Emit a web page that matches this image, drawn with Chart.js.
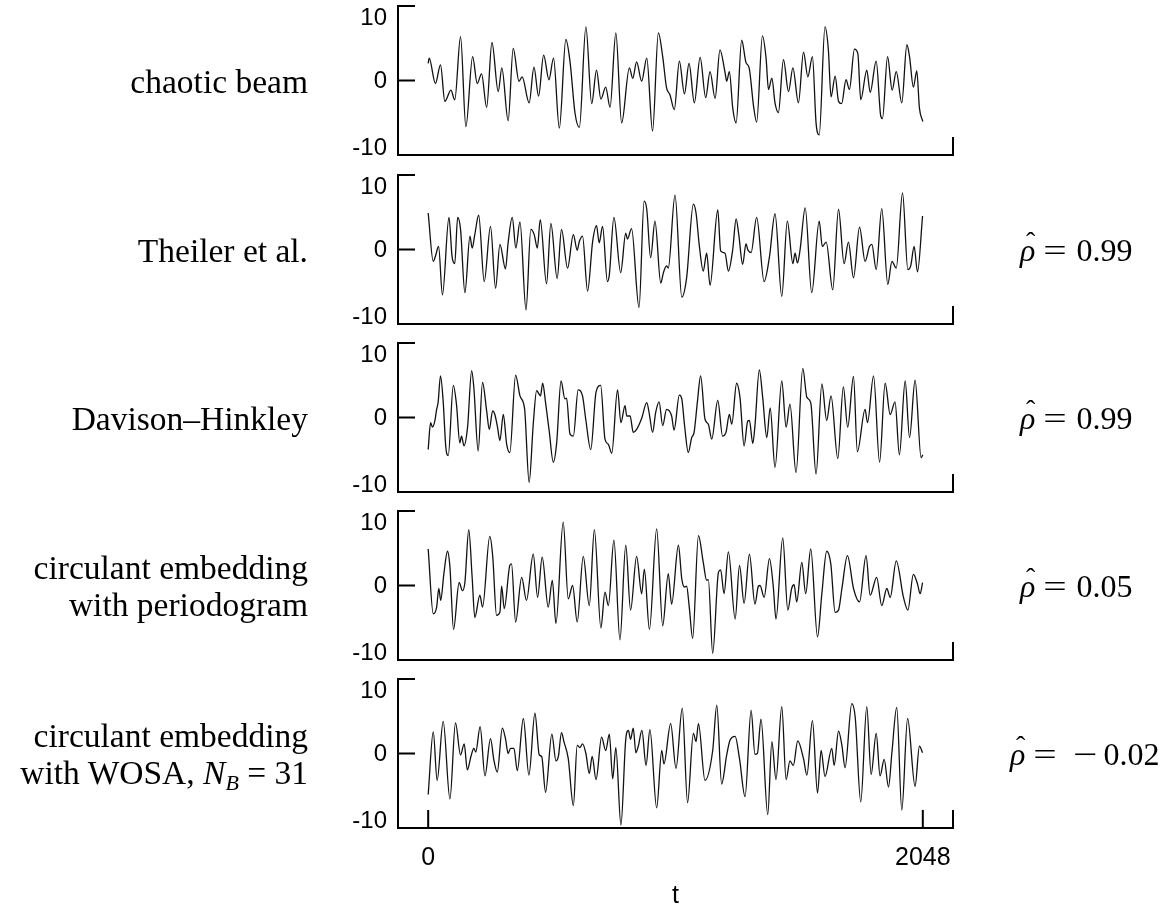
<!DOCTYPE html>
<html>
<head>
<meta charset="utf-8">
<script src="https://cdn.jsdelivr.net/npm/chart.js@4"></script>
<style>
body { margin:0; background:#fff; width:1165px; height:909px; position:relative; overflow:hidden; }
canvas.panel { position:absolute; left:0; }
.lab { position:absolute; right:857px; font-family:"Liberation Serif", serif; font-size:33.5px; line-height:37px; text-align:right; white-space:nowrap; color:#000; transform:translateY(-50%); }
.rho { position:absolute; font-family:"Liberation Serif", serif; font-size:32px; line-height:37px; white-space:nowrap; color:#000; transform:translateY(-50%); }
.rh { position:relative; display:inline-block; }
.hat { position:absolute; left:6px; top:-9px; font-style:normal; font-size:28px; }
.eq { display:inline-block; margin:0 12px 0 11px; transform:scaleX(1.3); }
.mn { display:inline-block; margin:0 9px 0 10px; transform:scaleX(1.35); }
sub { font-size:22px; vertical-align:-6px; line-height:0; }
</style>
</head>
<body>
<script>
// time axis: sample index 0..2048, values in [-10, 10]
const xTicks = [0, 2048];
const yTickLabels = ['10', '0', '-10'];
const panelLabels = [
  'chaotic beam',
  'Theiler et al.',
  'Davison–Hinkley',
  'circulant embedding<br>with periodogram',
  'circulant embedding<br>with WOSA, <i>N</i><sub><i>B</i></sub> = 31'
];
const rhoLabels = ['', '0.99', '0.99', '0.05', '−0.02'];

const chaoticT = [0,4,30,51,69,94,110,134,156,184,203,221,242,264,290,305,331,352,376,389,418,438,457,478,500,519,543,570,587,608,626,653,677,697,715,735,753,777,801,833,847,863,884,905,929,953,971,987,1001,1019,1040,1061,1080,1102,1126,1149,1167,1188,1208,1229,1236,1247,1261,1275,1298,1316,1329,1347,1360,1384,1399,1409,1423,1436,1450,1471,1492,1510,1533,1554,1572,1591,1606,1619,1643,1657,1668,1685,1699,1712,1730,1744,1765,1779,1791,1816,1830,1855,1874,1881,1902,1921,1938,1961,1982,1993,2009,2023,2034,2048];
const chaoticV = [2.3,3.0,-0.4,2.1,-2.8,-1.3,-2.6,5.9,-6.2,3.2,-0.4,0.9,-3.6,5.1,-1.5,1.7,-5.4,4.3,-0.1,0.5,-3.0,1.8,-2.1,3.4,0.1,3.0,-6.4,5.5,2.6,-4.4,-6.3,7.2,-3.1,1.4,-2.5,-0.9,-3.6,6.4,-5.7,1.7,0.3,2.5,-0.1,3.0,-6.8,6.4,3.2,-1.0,-1.9,-3.9,2.6,-1.8,2.3,-3.0,3.1,-2.3,1.2,-2.4,4.1,1.1,-0.1,1.2,-3.7,-5.7,5.4,2.4,1.7,-3.4,-5.6,6.0,3.0,-1.2,0.3,-3.0,-4.3,2.8,-1.5,1.7,-3.0,3.8,0.5,3.2,-5.7,-7.3,7.2,4.1,-2.2,0.6,-2.8,-3.1,0.1,-1.2,4.2,3.6,-2.6,1.4,-1.6,2.6,-4.8,-5.1,3.2,-1.3,1.2,-3.0,4.8,3.2,-0.9,1.3,-3.7,-5.5];

const theilerT = [0,21,30,43,59,86,99,110,122,134,152,173,182,193,209,232,258,279,297,320,331,348,363,380,405,425,439,452,464,490,508,534,552,577,601,617,626,639,660,681,697,708,722,742,750,769,797,818,825,842,873,894,905,921,939,963,974,987,994,1022,1050,1070,1098,1109,1123,1139,1153,1167,1199,1211,1229,1243,1261,1275,1286,1302,1316,1323,1337,1360,1391,1413,1436,1464,1487,1510,1519,1529,1540,1561,1588,1619,1632,1648,1675,1699,1722,1740,1761,1786,1809,1827,1837,1855,1878,1903,1920,1938,1964,1986,1998,2012,2026,2047];
const theilerV = [4.9,-1.6,-0.9,0.4,-6.1,4.3,-1.0,-1.9,4.3,2.7,-5.8,1.8,0.2,2.0,4.6,-4.3,3.1,-5.2,0.7,-2.6,0.9,4.3,0.2,3.7,-8.1,2.7,2.0,0.2,4.0,-4.6,3.5,-3.9,2.7,-2.5,2.0,-0.1,1.1,1.8,-5.6,1.1,3.2,0.9,3.1,-4.3,-3.4,4.3,-3.1,2.2,1.4,2.8,-7.8,6.5,5.4,-1.1,3.8,-4.5,-3.1,-2.2,-2.5,7.3,-6.4,-3.8,6.1,4.9,0.4,-2.9,-0.5,-4.8,5.3,-0.2,-0.5,-2.9,0.0,4.1,2.0,-2.0,0.8,0.0,-0.4,4.3,-4.3,-1.0,4.8,-6.3,3.8,-1.9,-0.5,-1.8,0.0,5.6,-5.8,3.8,0.4,1.0,-5.4,5.4,-1.9,1.0,-3.8,3.0,-1.6,0.4,0.7,-2.7,5.5,-4.7,-1.6,-2.5,7.6,-2.7,-2.2,0.4,-3.0,4.5];

const davisonT = [0,10,18,28,35,41,51,62,73,83,104,117,131,138,148,163,180,189,207,225,242,253,267,276,287,297,311,325,338,362,380,394,400,418,435,449,460,465,474,486,501,518,532,550,566,573,587,601,621,639,653,673,695,714,732,746,760,784,798,815,822,836,849,863,884,905,916,929,942,956,971,987,1008,1018,1040,1050,1061,1077,1091,1101,1115,1128,1146,1160,1174,1199,1219,1233,1247,1257,1277,1291,1308,1323,1330,1344,1353,1371,1385,1402,1416,1436,1464,1482,1498,1523,1551,1568,1584,1606,1630,1650,1668,1696,1719,1737,1761,1777,1809,1819,1844,1869,1892,1913,1933,1951,1975,1993,2016,2041,2048];
const davisonV = [-4.3,-0.7,-1.3,-0.4,1.1,2.0,5.6,2.2,-4.0,-5.1,4.3,1.8,-3.4,-2.5,-3.8,-1.3,6.3,4.0,-4.5,4.7,0.9,-1.6,0.9,0.4,-1.3,-3.1,0.4,-3.6,-4.7,5.7,2.9,2.0,0.9,-8.7,-0.9,3.6,3.1,2.9,4.6,2.0,-1.8,-6.0,-3.4,4.9,2.5,2.6,-2.2,-2.5,3.7,2.9,-0.4,-4.3,3.4,4.3,-2.9,-3.6,-4.8,3.7,-0.7,1.6,0.2,0.2,-2.0,-1.6,-0.1,2.0,0.4,-2.0,0.7,2.1,-1.1,1.1,0.2,-1.7,3.0,2.5,-0.9,-4.7,-2.7,-2.0,2.2,5.6,-0.2,-0.9,-2.9,2.3,-2.5,-2.0,0.4,-0.9,4.6,2.7,-3.8,-0.5,-0.4,-3.5,-1.1,6.4,2.7,-2.7,1.3,-6.7,4.9,-1.3,1.8,-7.4,6.6,2.7,2.0,-7.6,4.5,-0.4,2.9,-5.5,4.1,-1.3,5.5,-4.6,1.1,-0.7,5.6,-6.0,4.6,0.4,2.1,-5.0,4.9,-2.7,5.0,-5.4,-5.0];

const periodT = [0,21,35,44,52,65,80,90,105,128,142,152,168,182,193,214,225,255,267,283,297,304,315,338,345,362,387,407,435,453,472,497,514,529,559,580,598,617,642,667,688,715,732,746,769,794,818,838,863,884,895,916,946,971,994,1008,1036,1050,1061,1070,1081,1095,1119,1139,1153,1160,1178,1202,1211,1225,1243,1271,1289,1308,1330,1353,1367,1374,1391,1413,1429,1440,1468,1489,1505,1515,1526,1547,1563,1584,1612,1630,1650,1667,1685,1699,1713,1736,1761,1786,1813,1830,1857,1878,1899,1913,1938,1968,1986,2009,2026,2037,2047];
const periodV = [4.9,-3.8,-2.9,-0.4,-2.0,1.6,4.6,2.5,-5.9,0.4,-0.7,0.4,7.5,1.1,-4.3,-1.3,-2.9,6.6,4.0,-4.0,-3.6,-0.1,-3.1,2.7,2.9,-4.9,1.1,-2.0,4.2,-1.6,3.8,-2.9,0.7,-5.1,8.5,-1.8,0.0,-4.9,3.9,-2.7,7.5,-5.7,-0.9,-2.7,6.1,-7.3,5.4,-3.3,3.9,-1.1,2.2,-5.9,7.6,-5.4,1.6,-2.5,5.4,0.9,-0.2,-0.1,-2.9,-7.1,6.7,3.1,0.7,0.8,-9.1,1.8,2.1,-1.1,4.5,-4.5,2.7,-2.4,4.2,-2.5,-0.1,0.0,-1.6,3.6,-0.2,-4.5,6.4,-3.3,-0.4,0.1,-2.2,3.1,-1.1,4.9,-6.9,-1.1,4.6,2.9,-3.6,-3.3,-0.4,4.0,-0.4,-2.2,4.0,-1.3,1.1,-2.7,-0.4,-1.6,3.3,-1.6,-3.3,1.5,0.2,-1.1,0.4];

const wosaT = [0,21,37,62,90,113,134,149,162,177,189,197,215,235,258,272,286,307,320,331,341,355,369,394,417,442,460,470,486,512,529,539,552,562,580,601,617,628,639,653,667,679,695,718,735,750,764,777,798,818,829,838,849,860,870,885,902,918,946,967,976,1004,1026,1052,1074,1098,1109,1119,1146,1178,1195,1215,1236,1250,1271,1289,1312,1337,1353,1363,1378,1406,1423,1440,1464,1482,1498,1512,1530,1554,1568,1591,1612,1627,1643,1671,1681,1699,1713,1726,1754,1768,1791,1816,1834,1855,1871,1888,1906,1920,1940,1961,1985,2016,2034,2047];
const wosaV = [-5.5,2.9,-3.6,4.3,-6.1,4.1,-0.2,1.3,-2.2,-0.4,0.7,0.2,3.6,-3.0,2.0,-0.9,-2.5,3.4,2.0,0.0,0.7,0.7,-2.3,4.7,-2.9,5.4,-0.2,-0.4,-5.2,2.6,-1.0,-0.4,2.8,1.6,-0.7,-7.0,1.1,0.8,1.3,0.0,-2.7,-0.4,-3.5,2.2,0.4,2.6,-3.4,0.8,-9.6,1.9,3.1,1.9,3.4,0.1,1.0,3.1,-1.6,3.2,-7.3,0.4,-1.4,4.0,-2.0,6.1,-6.6,2.7,1.6,4.0,-3.6,0.4,6.5,-4.1,-0.2,1.8,2.3,-0.7,-5.8,5.8,-0.1,0.0,4.6,-8.2,1.6,-3.5,6.3,-3.5,-1.0,-1.6,1.7,-0.7,-2.9,4.4,-5.3,0.4,-3.1,0.7,-1.6,3.0,1.1,-1.9,6.7,4.9,-6.5,6.3,-2.8,2.7,-3.0,-0.8,-4.5,0.1,6.2,-7.6,4.7,-4.4,1.0,0.1];

const seriesT = [chaoticT, theilerT, davisonT, periodT, wosaT];
const seriesV = [chaoticV, theilerV, davisonV, periodV, wosaV];

const canvasTop = [0, 169, 337, 505, 673];
const rhoLeft = [0, 1020, 1020, 1020, 1010];

// axis frame: left axis with inward ticks, bottom axis with end tick
const frame = {
  id: 'frame',
  afterDraw(chart) {
    const {ctx, chartArea: a, scales: {x, y}} = chart;
    const last = chart.options.plugins.frame.last;
    const y0 = y.getPixelForValue(0);
    ctx.save();
    ctx.strokeStyle = '#000';
    ctx.lineWidth = 2;
    ctx.beginPath();
    ctx.moveTo(a.left + 17, a.top);
    ctx.lineTo(a.left, a.top);
    ctx.lineTo(a.left, a.bottom);
    ctx.lineTo(a.right, a.bottom);
    ctx.lineTo(a.right, a.bottom - 18);
    ctx.moveTo(a.left, y0);
    ctx.lineTo(a.left + 17, y0);
    if (last) {
      xTicks.forEach(v => {
        const px = x.getPixelForValue(v);
        ctx.moveTo(px, a.bottom);
        ctx.lineTo(px, a.bottom - 18);
      });
    }
    ctx.stroke();

    ctx.fillStyle = '#000';
    ctx.font = '24px "Liberation Sans", Arial, sans-serif';
    ctx.textAlign = 'right';
    ctx.textBaseline = 'middle';
    ctx.fillText(yTickLabels[0], a.left - 11, a.top + 12);
    ctx.fillText(yTickLabels[1], a.left - 11, y0 + 1);
    ctx.fillText(yTickLabels[2], a.left - 11, a.bottom - 7);
    if (last) {
      ctx.font = '25px "Liberation Sans", Arial, sans-serif';
      ctx.textAlign = 'center';
      xTicks.forEach(v => {
        ctx.fillText(String(v), x.getPixelForValue(v), a.bottom + 30);
      });
      ctx.fillText('t', (a.left + a.right) / 2, a.bottom + 68);
    }
    ctx.restore();
  }
};

seriesT.forEach((tArr, i) => {
  const last = i === seriesT.length - 1;
  const h = last ? 236 : 168;
  const cv = document.createElement('canvas');
  cv.className = 'panel';
  cv.width = 1165;
  cv.height = h;
  cv.style.top = canvasTop[i] + 'px';
  document.body.appendChild(cv);

  new Chart(cv.getContext('2d'), {
    type: 'line',
    data: {
      datasets: [{
        data: tArr.map((t, k) => ({x: t, y: seriesV[i][k]})),
        borderColor: '#111',
        borderWidth: 1.3,
        pointRadius: 0,
        cubicInterpolationMode: 'monotone',
        fill: false
      }]
    },
    options: {
      responsive: false,
      animation: false,
      devicePixelRatio: 1,
      layout: {padding: {left: 398, right: 212, top: 6, bottom: h - 155}},
      scales: {
        x: {type: 'linear', min: -125, max: 2173, display: false},
        y: {min: -10, max: 10, display: false}
      },
      plugins: {
        legend: {display: false},
        tooltip: {enabled: false},
        frame: {last: last}
      }
    },
    plugins: [frame]
  });

  const zeroY = canvasTop[i] + 6 + 149 / 2;
  const lab = document.createElement('div');
  lab.className = 'lab';
  lab.style.top = zeroY + 'px';
  lab.innerHTML = panelLabels[i];
  document.body.appendChild(lab);

  if (rhoLabels[i]) {
    const r = document.createElement('div');
    r.className = 'rho';
    r.style.top = zeroY + 'px';
    r.style.left = rhoLeft[i] + 'px';
    const val = rhoLabels[i].replace('−', '<span class="mn">−</span>');
    r.innerHTML = '<span class="rh"><i>ρ</i><span class="hat">ˆ</span></span><span class="eq">=</span>' + val;
    document.body.appendChild(r);
  }
});
</script>
</body>
</html>
